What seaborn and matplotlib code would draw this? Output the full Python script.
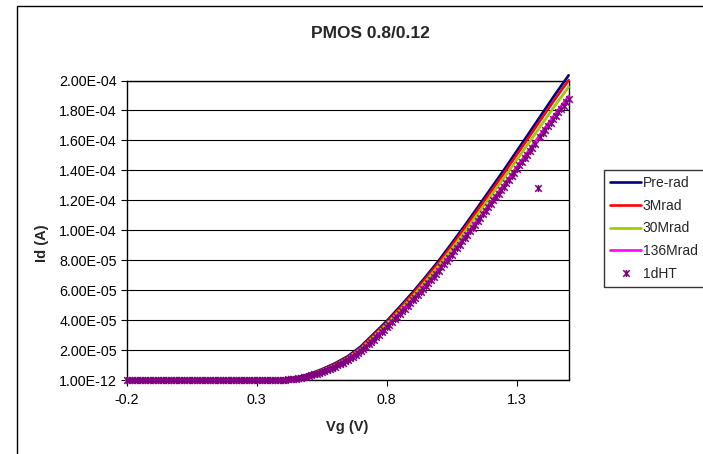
import numpy as np
import pandas as pd
import matplotlib
matplotlib.use("Agg")
import matplotlib.pyplot as plt
from matplotlib.path import Path
from matplotlib.lines import Line2D
from matplotlib.patches import Rectangle
import seaborn as sns

# ---------------- data (Id in microamps) ----------------
series_names = ["Pre-rad", "3Mrad", "30Mrad", "136Mrad"]
series_colors = ["#000080", "#FF0000", "#99CC00", "#FF00FF"]
ht_name = "1dHT"
ht_color = "#800080"

vg_lines = [-0.20, -0.15, -0.10, -0.05, 0.00, 0.05, 0.10, 0.15, 0.20, 0.25, 0.30,
            0.35, 0.40, 0.45, 0.50, 0.55, 0.60, 0.65, 0.70, 0.75, 0.80, 0.85,
            0.90, 0.95, 1.00, 1.05, 1.10, 1.15, 1.20, 1.25, 1.30, 1.35, 1.40,
            1.45, 1.50]

id_prerad = [1e-6, 1e-6, 1e-6, 1e-6, 1e-6, 1e-6, 1e-6, 1e-6, 1e-6, 1e-6, 1e-6,
             0.1, 0.5, 1.8, 4.0, 7.3, 11.2, 16.0, 22.5, 31.0, 39.5, 49.0,
             58.7, 69.1, 79.8, 91.4, 103.2, 115.4, 127.8, 140.1, 152.9, 165.6, 178.5,
             191.3, 203.5]
id_3mrad = [1e-6, 1e-6, 1e-6, 1e-6, 1e-6, 1e-6, 1e-6, 1e-6, 1e-6, 1e-6, 1e-6,
            0.1, 0.4, 1.6, 3.7, 6.9, 10.7, 15.4, 21.8, 30.2, 38.6, 48.0,
            57.6, 67.9, 78.5, 89.9, 101.6, 113.6, 125.8, 137.9, 150.5, 163.0, 175.8,
            188.3, 200.3]
id_30mrad = [1e-6, 1e-6, 1e-6, 1e-6, 1e-6, 1e-6, 1e-6, 1e-6, 1e-6, 1e-6, 1e-6,
             0.1, 0.4, 1.4, 3.4, 6.5, 10.2, 14.8, 21.0, 29.2, 37.5, 46.6,
             56.0, 66.1, 76.5, 87.7, 99.1, 110.9, 122.8, 134.6, 146.9, 159.2, 171.6,
             183.9, 195.7]
id_136mrad = [1e-6, 1e-6, 1e-6, 1e-6, 1e-6, 1e-6, 1e-6, 1e-6, 1e-6, 1e-6, 1e-6,
              0.05, 0.3, 1.2, 3.0, 5.9, 9.5, 14.0, 19.9, 27.8, 35.9, 44.8,
              54.0, 63.8, 73.9, 84.8, 95.9, 107.3, 118.9, 130.4, 142.3, 154.2, 166.3,
              178.2, 189.6]

vg_ht = [-0.20, -0.19, -0.18, -0.17, -0.16, -0.15, -0.14, -0.13, -0.12, -0.11,
         -0.10, -0.09, -0.08, -0.07, -0.06, -0.05, -0.04, -0.03, -0.02, -0.01,
         0.00, 0.01, 0.02, 0.03, 0.04, 0.05, 0.06, 0.07, 0.08, 0.09,
         0.10, 0.11, 0.12, 0.13, 0.14, 0.15, 0.16, 0.17, 0.18, 0.19,
         0.20, 0.21, 0.22, 0.23, 0.24, 0.25, 0.26, 0.27, 0.28, 0.29,
         0.30, 0.31, 0.32, 0.33, 0.34, 0.35, 0.36, 0.37, 0.38, 0.39,
         0.40, 0.41, 0.42, 0.43, 0.44, 0.45, 0.46, 0.47, 0.48, 0.49,
         0.50, 0.51, 0.52, 0.53, 0.54, 0.55, 0.56, 0.57, 0.58, 0.59,
         0.60, 0.61, 0.62, 0.63, 0.64, 0.65, 0.66, 0.67, 0.68, 0.69,
         0.70, 0.71, 0.72, 0.73, 0.74, 0.75, 0.76, 0.77, 0.78, 0.79,
         0.80, 0.81, 0.82, 0.83, 0.84, 0.85, 0.86, 0.87, 0.88, 0.89,
         0.90, 0.91, 0.92, 0.93, 0.94, 0.95, 0.96, 0.97, 0.98, 0.99,
         1.00, 1.01, 1.02, 1.03, 1.04, 1.05, 1.06, 1.07, 1.08, 1.09,
         1.10, 1.11, 1.12, 1.13, 1.14, 1.15, 1.16, 1.17, 1.18, 1.19,
         1.20, 1.21, 1.22, 1.23, 1.24, 1.25, 1.26, 1.27, 1.28, 1.29,
         1.30, 1.31, 1.32, 1.33, 1.34, 1.35, 1.36, 1.37, 1.38, 1.39,
         1.40, 1.41, 1.42, 1.43, 1.44, 1.45, 1.46, 1.47, 1.48, 1.49,
         1.50]
id_ht = [1e-6, 1e-6, 1e-6, 1e-6, 1e-6, 1e-6, 1e-6, 1e-6, 1e-6, 1e-6,
         1e-6, 1e-6, 1e-6, 1e-6, 1e-6, 1e-6, 1e-6, 1e-6, 1e-6, 1e-6,
         1e-6, 1e-6, 1e-6, 1e-6, 1e-6, 1e-6, 1e-6, 1e-6, 1e-6, 1e-6,
         1e-6, 1e-6, 1e-6, 1e-6, 1e-6, 1e-6, 1e-6, 1e-6, 1e-6, 1e-6,
         1e-6, 1e-6, 1e-6, 1e-6, 1e-6, 1e-6, 1e-6, 1e-6, 1e-6, 1e-6,
         1e-6, 1e-6, 1e-6, 1e-6, 0.02, 0.05, 0.08, 0.11, 0.16, 0.22,
         0.3, 0.42, 0.56, 0.72, 0.9, 1.1, 1.40, 1.72, 2.06, 2.42,
         2.8, 3.33, 3.88, 4.44, 5.02, 5.6, 6.3, 7.0, 7.7, 8.45,
         9.2, 10.05, 10.9, 11.8, 12.7, 13.6, 14.7, 15.8, 16.9, 18.1,
         19.4, 20.9, 22.5, 24.0, 25.6, 27.2, 28.8, 30.4, 32.0, 33.7,
         35.3, 37.1, 38.9, 40.7, 42.4, 44.2, 46.0, 47.8, 49.7, 51.5,
         53.3, 55.2, 57.2, 59.1, 61.1, 63.0, 65.0, 67.0, 69.1, 71.1,
         73.1, 75.3, 77.4, 79.6, 81.7, 83.9, 86.1, 88.3, 90.5, 92.7,
         94.9, 97.2, 99.4, 101.7, 103.9, 106.2, 108.5, 110.8, 113.1, 115.4,
         117.7, 120.0, 122.3, 124.5, 126.8, 129.1, 131.5, 133.8, 136.2, 138.5,
         140.9, 143.3, 145.6, 148.0, 150.3, 152.7, 155.1, 157.5, 128.4, 162.3,
         164.7, 167.1, 169.4, 171.8, 174.1, 176.5, 178.8, 181.0, 183.3, 185.5,
         187.8]

x_ticks = [-0.2, 0.3, 0.8, 1.3]
x_tick_labels = ["-0.2", "0.3", "0.8", "1.3"]
y_ticks = [1e-12, 2e-5, 4e-5, 6e-5, 8e-5, 1e-4, 1.2e-4, 1.4e-4, 1.6e-4, 1.8e-4, 2e-4]

title_text = "PMOS 0.8/0.12"
x_label = "Vg (V)"
y_label = "Id (A)"

# ---------------- build table ----------------
all_ids = [id_prerad, id_3mrad, id_30mrad, id_136mrad]
frames = []
for name, vals in zip(series_names, all_ids):
    frames.append(pd.DataFrame({"Vg": vg_lines,
                                "Id": np.array(vals) * 1e-6,
                                "series": name}))
df = pd.concat(frames, ignore_index=True)
df_ht = pd.DataFrame({"Vg": vg_ht, "Id": np.array(id_ht) * 1e-6})

# ---------------- style ----------------
sns.set_style("white")
plt.rcParams["font.family"] = ["Liberation Sans", "DejaVu Sans"]

W, H = 703, 454
fig = plt.figure(figsize=(W / 100, H / 100), dpi=100)
fig.patch.set_facecolor("white")

left, right, top, bottom = 126.7, 568.7, 80.5, 380.3
ax = fig.add_axes([left / W, 1 - bottom / H, (right - left) / W, (bottom - top) / H])

sns.lineplot(data=df, x="Vg", y="Id", hue="series", hue_order=series_names,
             palette=dict(zip(series_names, series_colors)), linewidth=1.9,
             legend=False, ax=ax, sort=True)
for ln in ax.get_lines():
    ln.set_clip_on(False)
    ln.set_zorder(3)

star = Path([(-1, -1), (1, 1), (-1, 1), (1, -1), (0, -1.1), (0, 1.1)],
            [Path.MOVETO, Path.LINETO, Path.MOVETO, Path.LINETO, Path.MOVETO, Path.LINETO])

sns.lineplot(data=df_ht, x="Vg", y="Id", ax=ax, linestyle="none", marker=star,
             markersize=5.2, markeredgewidth=1.1, markeredgecolor=ht_color,
             color=ht_color, legend=False, sort=False)
ax.get_lines()[-1].set_clip_on(False)
ax.get_lines()[-1].set_zorder(4)

ax.set_xlim(-0.2, 1.5)
ax.set_ylim(1e-12, 2e-4)
ax.set_xticks(x_ticks)
ax.set_xticklabels(x_tick_labels)
ax.set_yticks(y_ticks)
ax.set_yticklabels(["{:.2E}".format(v) for v in y_ticks])
ax.set_xlabel("")
ax.set_ylabel("")

ax.yaxis.grid(True, color="black", linewidth=0.8)
ax.xaxis.grid(False)
ax.set_axisbelow(True)
for sp in ax.spines.values():
    sp.set_visible(True)
    sp.set_color("black")
    sp.set_linewidth(1.0)

ax.tick_params(axis="both", which="major", direction="out", length=4.5,
               width=0.8, color="black", labelsize=10.3, labelcolor="black")
ax.tick_params(axis="y", pad=2.5)
ax.tick_params(axis="x", pad=5)
ax.xaxis.set_ticks_position("bottom")
ax.yaxis.set_ticks_position("left")

# titles
fig.text(370 / W, 1 - 33 / H, title_text, ha="center", va="center",
         fontsize=12.5, fontweight="bold")
fig.text(347 / W, 1 - 427 / H, x_label, ha="center", va="center",
         fontsize=10.5, fontweight="bold")
fig.text(42 / W, 1 - 243 / H, y_label, ha="center", va="center",
         rotation=90, fontsize=10.5, fontweight="bold")

# legend
handles = [Line2D([0], [0], color=c, linewidth=1.9) for c in series_colors]
handles.append(Line2D([0], [0], linestyle="none", marker=star, markersize=5.2,
                      markeredgewidth=1.1, markeredgecolor=ht_color, color=ht_color))
labels = series_names + [ht_name]
leg = fig.legend(handles, labels, loc="upper left",
                 bbox_to_anchor=(604 / W, 1 - 170 / H),
                 frameon=True, fancybox=False, shadow=False, fontsize=10,
                 handlelength=2.2, handletextpad=0.15, labelspacing=0.62,
                 borderpad=0.45, borderaxespad=0.0)
leg.get_frame().set_edgecolor("black")
leg.get_frame().set_linewidth(1.0)
leg.get_frame().set_facecolor("white")

# chart area border (extends past right/bottom edges like the original)
fig.add_artist(Rectangle((17 / W, -0.05), 1.2, 1 - 6 / H + 0.05,
                         transform=fig.transFigure, fill=False,
                         edgecolor="black", linewidth=1.0, clip_on=False))

fig.savefig("out.png", dpi=100, facecolor="white")
